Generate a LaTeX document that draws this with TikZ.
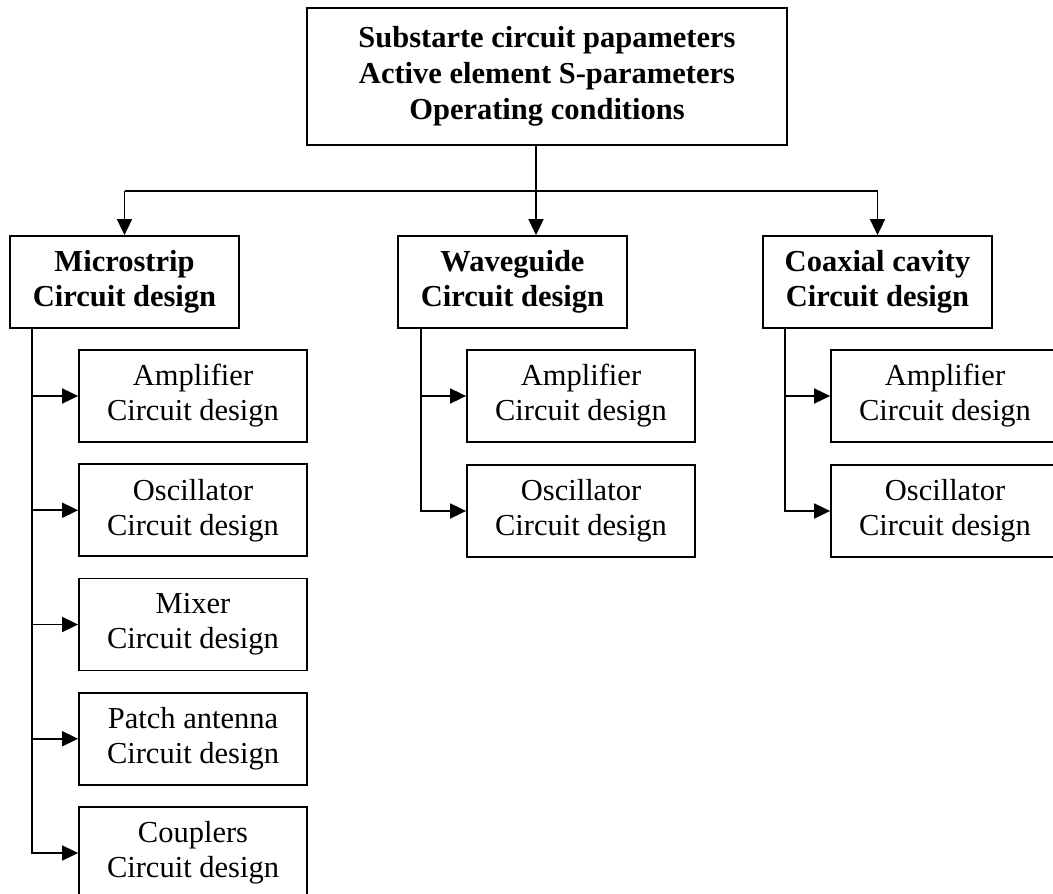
\documentclass[tikz,border=0pt]{standalone}
\usepackage{fontspec}
\setmainfont{Liberation Serif}
\usetikzlibrary{arrows.meta,calc}
\tikzset{
  box/.style={draw, line width=1.8pt, inner sep=0pt, align=center, font=\fontsize{30.5}{35}\selectfont},
  mainbox/.style={box, minimum width=229pt, minimum height=92pt, font=\fontsize{30.5}{35}\selectfont\bfseries},
  subbox/.style={box, minimum width=228pt, minimum height=92pt},
  conn/.style={line width=1.8pt},
  arr/.style={conn, -{Triangle[length=16pt,width=15pt]}}
}
\begin{document}
\begin{tikzpicture}[x=1pt,y=-1pt]
\useasboundingbox (0,0) rectangle (1053,894);
\clip (0,0) rectangle (1053,894);
\node[box, minimum width=480pt, minimum height=137pt, font=\fontsize{30.5}{36}\selectfont\bfseries] (top) at (547,76.5)
  {Substarte circuit papameters\\Active element S-parameters\\Operating conditions};
\node[mainbox] (ms) at (124.5,282) {Microstrip\\Circuit design};
\node[mainbox] (wg) at (512.5,282) {Waveguide\\Circuit design};
\node[mainbox] (cx) at (877.5,282) {Coaxial cavity\\Circuit design};
% microstrip subs
\node[subbox] (m1) at (193,396) {Amplifier\\Circuit design};
\node[subbox] (m2) at (193,510.25) {Oscillator\\Circuit design};
\node[subbox] (m3) at (193,624.5) {Mixer\\Circuit design};
\node[subbox] (m4) at (193,738.75) {Patch antenna\\Circuit design};
\node[subbox] (m5) at (193,853) {Couplers\\Circuit design};
% waveguide subs
\node[subbox] (w1) at (581,396) {Amplifier\\Circuit design};
\node[subbox] (w2) at (581,511) {Oscillator\\Circuit design};
% coaxial subs
\node[subbox] (c1) at (945,396) {Amplifier\\Circuit design};
\node[subbox] (c2) at (945,511) {Oscillator\\Circuit design};
% top connectors
\coordinate (j) at (536,190.7);
\draw[arr] (top.south -| j) -- (j |- wg.north);
\draw[conn] (ms.north |- j) -- (cx.north |- j);
\draw[arr] (ms.north |- j) -- (ms.north);
\draw[arr] (cx.north |- j) -- (cx.north);
% branch trunks
\coordinate (ms0) at ($(ms.south west)+(23,0)$);
\coordinate (wg0) at ($(wg.south west)+(23.5,0)$);
\coordinate (cx0) at ($(cx.south west)+(23,0)$);
\foreach \n in {m1,m2,m3,m4,m5}{\draw[arr] (ms0) |- (\n.west);}
\foreach \n in {w1,w2}{\draw[arr] (wg0) |- (\n.west);}
\foreach \n in {c1,c2}{\draw[arr] (cx0) |- (\n.west);}
\end{tikzpicture}
\end{document}
